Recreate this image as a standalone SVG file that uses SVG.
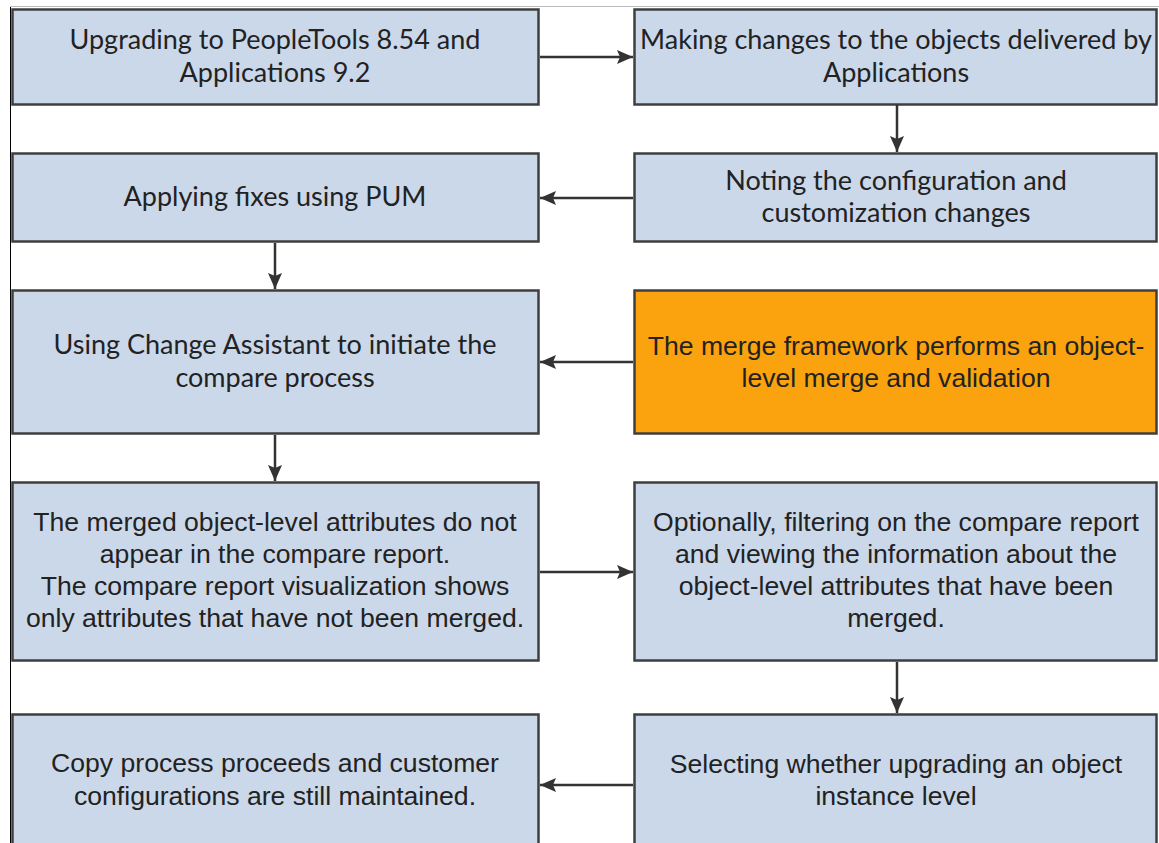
<svg xmlns="http://www.w3.org/2000/svg" width="1159" height="843" viewBox="0 0 1159 843">
<defs>
<marker id="ah" viewBox="0 0 16 14" refX="16" refY="7" markerWidth="16" markerHeight="14" markerUnits="userSpaceOnUse" orient="auto">
<path d="M0,0 L16,7 L0,14 L3,7 Z" fill="#333"/>
</marker>
<style>
.box{fill:#cbd8ea;stroke:#3f3f3f;stroke-width:2.5}
.org{fill:#fba30f;stroke:#3f3f3f;stroke-width:2.5}
.t1{font-family:Lato,"Open Sans",sans-serif;font-size:27px;fill:#222;text-anchor:middle}
.t2{font-family:"Liberation Sans",Arial,sans-serif;font-size:26.6px;fill:#222;text-anchor:middle}
.c{stroke:#333;stroke-width:2.5;fill:none;marker-end:url(#ah)}
</style>
</defs>
<rect width="1159" height="843" fill="#fff"/>
<line x1="10.5" y1="6" x2="10.5" y2="843" stroke="#000" stroke-width="1"/>
<line x1="10" y1="6.5" x2="1159" y2="6.5" stroke="#bbb" stroke-width="1"/>
<g id="n1"><rect class="box" x="12.5" y="9.5" width="526" height="95"/>
<text class="t1" x="275" y="49">Upgrading to PeopleTools 8.54 and</text><text class="t1" x="275" y="82">Applications 9.2</text></g>
<g id="n2"><rect class="box" x="634.5" y="9.5" width="522" height="95"/>
<text class="t1" x="896" y="49">Making changes to the objects delivered by</text><text class="t1" x="896" y="82">Applications</text></g>
<g id="n3"><rect class="box" x="12.5" y="153.5" width="526" height="88"/>
<text class="t1" x="275" y="206">Applying fixes using PUM</text></g>
<g id="n4"><rect class="box" x="634.5" y="153.5" width="522" height="88"/>
<text class="t1" x="896" y="190">Noting the configuration and</text><text class="t1" x="896" y="222">customization changes</text></g>
<g id="n5"><rect class="box" x="12.5" y="290.5" width="526" height="143"/>
<text class="t1" x="275" y="354">Using Change Assistant to initiate the</text><text class="t1" x="275" y="387">compare process</text></g>
<g id="n6"><rect class="org" x="634.5" y="290.5" width="522" height="143"/>
<text class="t2" x="896" y="355">The merge framework performs an object-</text><text class="t2" x="896" y="387">level merge and validation</text></g>
<g id="n7"><rect class="box" x="12.5" y="482.5" width="526" height="178"/>
<text class="t2" x="275" y="531">The merged object-level attributes do not</text><text class="t2" x="275" y="563">appear in the compare report.</text><text class="t2" x="275" y="595">The compare report visualization shows</text><text class="t2" x="275" y="627">only attributes that have not been merged.</text></g>
<g id="n8"><rect class="box" x="634.5" y="482.5" width="522" height="178"/>
<text class="t2" x="896" y="531">Optionally, filtering on the compare report</text><text class="t2" x="896" y="563">and viewing the information about the</text><text class="t2" x="896" y="595">object-level attributes that have been</text><text class="t2" x="896" y="627">merged.</text></g>
<g id="n9"><rect class="box" x="12.5" y="714.5" width="526" height="140"/>
<text class="t2" x="275" y="772">Copy process proceeds and customer</text><text class="t2" x="275" y="805">configurations are still maintained.</text></g>
<g id="n10"><rect class="box" x="634.5" y="714.5" width="522" height="140"/>
<text class="t2" x="896" y="773">Selecting whether upgrading an object</text><text class="t2" x="896" y="805">instance level</text></g>
<g id="connectors">
<line class="c" x1="540" y1="57" x2="633" y2="57"/>
<line class="c" x1="897" y1="105" x2="897" y2="152"/>
<line class="c" x1="633" y1="198" x2="540" y2="198"/>
<line class="c" x1="275" y1="243" x2="275" y2="289"/>
<line class="c" x1="633" y1="362" x2="540" y2="362"/>
<line class="c" x1="275" y1="435" x2="275" y2="481"/>
<line class="c" x1="540" y1="572" x2="633" y2="572"/>
<line class="c" x1="897" y1="662" x2="897" y2="713"/>
<line class="c" x1="633" y1="785" x2="540" y2="785"/>
</g>
</svg>
